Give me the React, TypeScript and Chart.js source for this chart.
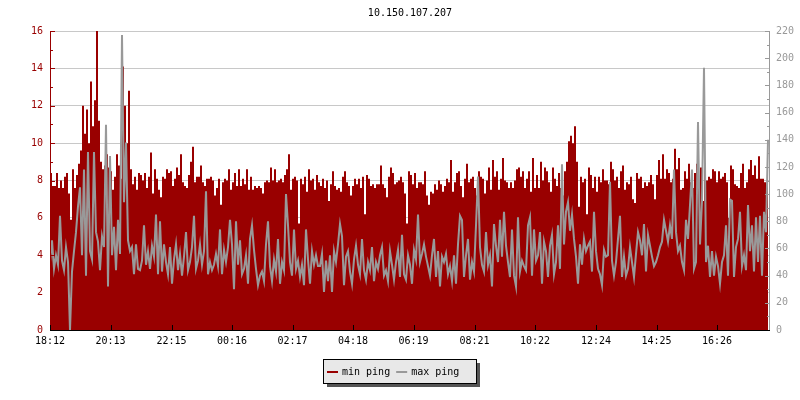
import React, { useEffect, useRef } from "react";
import { Chart, registerables } from "chart.js";

Chart.register(...registerables);

const TITLE = "10.150.107.207";
const SERIES_NAMES = ["min ping", "max ping"];
const STEP_MINUTES = 4;
const SPAN_MINUTES = 1440;
const TICK_MINUTES = [0, 121, 243, 364, 485, 606, 727, 849, 970, 1092, 1213, 1334];
const TICK_LABELS = ["18:12", "20:13", "22:15", "00:16", "02:17", "04:18", "06:19", "08:21", "10:22", "12:24", "14:25", "16:26"];

// min ping (ms, left axis), one value per 4 minutes
const MIN_PING = [
  8.4, 7.7, 7.7, 8.4, 7.6, 8.0, 7.6, 8.2, 8.4, 7.3, 5.9, 8.6, 7.6, 8.3, 8.9, 9.6, 12.0, 10.5, 11.8, 10.0,
  13.3, 10.9, 12.3, 16.0, 11.2, 9.0, 8.6, 8.8, 9.4, 8.7, 8.5, 7.5, 8.2, 9.4, 8.8, 8.1, 14.1, 12.0, 10.0, 12.8,
  8.6, 7.8, 8.2, 7.5, 8.4,
  8.3, 8.0, 8.4, 7.6, 8.2, 9.5, 7.3, 8.6, 8.1, 7.5, 7.1, 8.2, 8.1, 8.6, 8.4, 8.5, 7.7, 8.1, 8.7, 8.3,
  9.4, 7.9, 7.7, 7.6, 8.3, 9.0, 9.8, 7.9, 8.2, 8.2, 8.8, 7.9, 7.7, 8.1, 8.1, 8.2, 8.0, 7.2, 7.6, 8.1,
  6.7, 7.9, 8.1, 8.0, 8.6,
  7.5, 7.9, 8.4, 7.7, 8.6, 7.7, 8.1, 7.8, 8.6, 7.5, 8.2, 7.5, 7.7, 7.6, 7.7, 7.6, 7.3, 7.9, 8.0, 7.9,
  8.7, 8.0, 8.6, 7.9, 8.0, 8.1, 7.9, 8.3, 8.6, 9.4, 7.5, 8.1, 8.2, 8.0, 5.7, 8.1, 7.8, 8.2, 7.4, 8.6,
  8.0, 8.1, 7.5, 8.3, 7.9,
  7.7, 8.1, 7.6, 8.0, 6.9, 7.8, 8.5, 7.7, 7.5, 7.6, 7.4, 8.2, 8.5, 7.9, 7.7, 7.2, 7.7, 8.1, 7.8, 8.1,
  7.6, 8.2, 6.2, 8.3, 8.1, 7.7, 7.8, 7.6, 7.8, 7.8, 8.8, 7.8, 7.6, 7.1, 8.2, 8.7, 8.4, 7.8, 7.9, 8.0,
  8.2, 7.9, 7.3, 5.7, 8.5,
  8.3, 7.8, 8.4, 7.6, 7.9, 7.9, 7.8, 8.5, 7.2, 6.7, 7.4, 7.3, 7.8, 7.5, 8.0, 7.8, 7.4, 7.7, 8.1, 7.9,
  9.1, 7.4, 7.9, 8.4, 8.5, 7.7, 7.1, 8.1, 8.9, 7.9, 8.1, 8.2, 7.6, 7.2, 8.5, 8.2, 8.1, 7.3, 8.0, 8.7,
  7.5, 9.1, 8.2, 8.5, 7.5,
  8.1, 9.2, 8.0, 7.9, 7.6, 7.9, 7.6, 8.0, 8.6, 8.7, 8.2, 8.5, 7.6, 8.1, 8.5, 7.4, 9.2, 7.6, 8.3, 7.6,
  9.0, 8.0, 8.7, 8.5, 7.9, 7.4, 8.7, 8.1, 7.7, 8.4, 7.6, 7.2, 8.5, 9.0, 10.1, 10.4, 10.0, 10.9, 9.0, 6.6,
  8.2, 7.9, 8.1, 6.2, 8.7,
  8.3, 7.6, 8.2, 7.4, 8.2, 7.9, 8.6, 8.0, 8.0, 7.8, 9.0, 8.6, 8.0, 8.2, 7.6, 8.5, 8.8, 7.5, 7.9, 7.8,
  8.2, 7.0, 6.8, 8.4, 8.1, 8.2, 7.6, 7.9, 7.7, 7.9, 8.3, 7.8, 7.0, 8.3, 9.1, 8.1, 9.4, 8.1, 8.6, 8.4,
  7.9, 8.1, 9.7, 8.6, 9.2,
  7.5, 7.6, 8.5, 8.1, 8.9, 7.9, 7.6, 8.4, 8.9, 7.8, 8.7, 6.9, 8.9, 8.0, 8.2, 8.1, 8.6, 8.5, 7.9, 8.5,
  8.1, 8.2, 8.4, 7.9, 6.0, 8.8, 8.6, 7.8, 7.7, 7.6, 8.4, 8.9, 7.6, 7.9, 8.6, 9.1, 8.3, 8.8, 8.1, 9.3,
  8.1, 8.1, 7.9, 7.7, 8.0,
];

// max ping (ms, right axis), one value per 4 minutes
const MAX_PING = [
  50, 66, 45, 55, 48, 84, 51, 44, 61, 50, 0, 43, 58, 72, 91, 105, 55, 118, 40, 131,
  58, 52, 131, 72, 65, 44, 69, 61, 151, 32, 128, 55, 76, 44, 81, 56, 217, 94, 138, 66,
  58, 61, 41, 63, 45,
  44, 51, 77, 48, 58, 45, 62, 54, 85, 41, 80, 43, 63, 50, 41, 61, 34, 52, 63, 44,
  56, 40, 54, 72, 44, 50, 61, 84, 45, 51, 63, 48, 58, 102, 41, 50, 44, 48, 56, 47,
  74, 41, 59, 50, 61,
  81, 63, 30, 80, 48, 66, 41, 45, 55, 34, 67, 77, 59, 45, 33, 40, 43, 36, 63, 80,
  47, 36, 52, 43, 67, 34, 50, 44, 100, 77, 50, 40, 74, 45, 51, 39, 48, 33, 74, 52,
  34, 58, 48, 55, 47,
  47, 56, 28, 51, 36, 55, 28, 58, 50, 63, 78, 69, 33, 54, 58, 43, 34, 52, 62, 48,
  41, 67, 44, 37, 50, 44, 61, 36, 50, 45, 55, 61, 40, 44, 36, 58, 48, 37, 50, 59,
  39, 70, 41, 37, 55,
  48, 34, 59, 52, 85, 50, 56, 63, 54, 47, 40, 55, 67, 39, 58, 32, 54, 50, 56, 41,
  47, 36, 55, 34, 63, 84, 81, 39, 55, 67, 37, 50, 43, 77, 113, 61, 48, 43, 72, 48,
  55, 32, 78, 62, 50,
  81, 54, 87, 62, 50, 39, 74, 40, 32, 83, 43, 51, 47, 44, 77, 83, 40, 74, 51, 55,
  72, 34, 65, 58, 39, 62, 70, 41, 50, 77, 45, 122, 63, 87, 94, 73, 85, 67, 54, 34,
  63, 48, 67, 58, 62,
  65, 43, 87, 58, 45, 41, 33, 59, 54, 55, 109, 51, 40, 50, 67, 84, 39, 54, 40, 45,
  61, 50, 39, 56, 72, 66, 55, 78, 43, 70, 62, 54, 47, 50, 55, 61, 65, 81, 73, 65,
  77, 67, 118, 72, 58,
  62, 50, 44, 81, 67, 92, 118, 45, 50, 153, 63, 95, 193, 50, 62, 39, 58, 40, 54, 47,
  34, 50, 55, 77, 40, 96, 95, 39, 61, 67, 87, 47, 55, 44, 92, 58, 77, 43, 83, 50,
  84, 40, 87, 72, 140,
];

const RED = "#990000";
const GRAY = "#999999";
const FONT = '"DejaVu Sans Mono", monospace';

const overlayPlugin = {
  id: "overlay",
  afterDraw(chart: any) {
    const { ctx, chartArea } = chart;
    const { left, right, top, bottom } = chartArea;
    const x = chart.scales.x;
    const y = chart.scales.y;
    const y1 = chart.scales.y1;
    ctx.save();
    ctx.lineWidth = 1;

    // left axis
    ctx.strokeStyle = RED;
    ctx.beginPath();
    ctx.moveTo(left + 0.5, top);
    ctx.lineTo(left + 0.5, bottom);
    for (let v = 0; v <= 16; v++) {
      const py = Math.round(y.getPixelForValue(v)) + 0.5;
      const len = v % 2 === 0 ? 5 : 3;
      ctx.moveTo(left, py);
      ctx.lineTo(left + len, py);
    }
    ctx.stroke();

    // right axis
    ctx.strokeStyle = GRAY;
    ctx.beginPath();
    ctx.moveTo(right - 0.5, top);
    ctx.lineTo(right - 0.5, bottom);
    for (let v = 0; v <= 220; v += 10) {
      const py = Math.round(y1.getPixelForValue(v)) + 0.5;
      const len = v % 20 === 0 ? 5 : 3;
      ctx.moveTo(right - len, py);
      ctx.lineTo(right, py);
    }
    ctx.stroke();

    // bottom axis
    ctx.strokeStyle = "#000000";
    ctx.beginPath();
    ctx.moveTo(left, bottom + 0.5);
    ctx.lineTo(right, bottom + 0.5);
    TICK_MINUTES.forEach((t) => {
      const px = Math.round(x.getPixelForValue(t)) + 0.5;
      ctx.moveTo(px, bottom);
      ctx.lineTo(px, bottom - 5);
    });
    ctx.stroke();

    // title
    ctx.fillStyle = "#000000";
    ctx.font = "10px " + FONT;
    ctx.textAlign = "center";
    ctx.textBaseline = "middle";
    ctx.fillText(TITLE, (left + right) / 2, 13);

    // legend
    const bx = 323, by = 359, bw = 153, bh = 24;
    ctx.fillStyle = "#555555";
    ctx.fillRect(bx + 4, by + 4, bw, bh);
    ctx.fillStyle = "#e8e8e8";
    ctx.fillRect(bx, by, bw, bh);
    ctx.strokeStyle = "#000000";
    ctx.strokeRect(bx + 0.5, by + 0.5, bw, bh);
    const colors = [RED, GRAY];
    let cx = bx + 4;
    const cy = by + 13;
    ctx.textAlign = "left";
    SERIES_NAMES.forEach((name, i) => {
      ctx.fillStyle = colors[i];
      ctx.fillRect(cx, cy - 1, 11, 2);
      cx += 15;
      ctx.fillStyle = "#000000";
      ctx.fillText(name, cx, cy);
      cx += ctx.measureText(name).width + 6;
    });
    ctx.restore();
  },
};

export default function App() {
  const canvasRef = useRef<HTMLCanvasElement | null>(null);

  useEffect(() => {
    const canvas = canvasRef.current;
    if (!canvas) return;
    Chart.defaults.font.family = FONT;
    Chart.defaults.font.size = 10;

    const chart = new Chart(canvas, {
      type: "line",
      data: {
        datasets: [
          {
            label: SERIES_NAMES[0],
            data: MIN_PING.map((v, i) => ({ x: i * STEP_MINUTES, y: v })),
            yAxisID: "y",
            stepped: true,
            fill: "origin",
            backgroundColor: RED,
            borderColor: RED,
            borderWidth: 0,
            pointRadius: 0,
            order: 1,
          },
          {
            label: SERIES_NAMES[1],
            data: MAX_PING.map((v, i) => ({ x: i * STEP_MINUTES, y: v })),
            yAxisID: "y1",
            stepped: false,
            tension: 0,
            fill: false,
            borderColor: GRAY,
            borderWidth: 2,
            pointRadius: 0,
            order: 0,
          },
        ],
      },
      options: {
        animation: false,
        responsive: false,
        events: [],
        layout: { padding: { top: 31, left: 0, right: 0, bottom: 0 } },
        plugins: {
          legend: { display: false },
          title: { display: false },
          tooltip: { enabled: false },
        },
        scales: {
          x: {
            type: "linear",
            min: 0,
            max: SPAN_MINUTES,
            afterBuildTicks: (scale: any) => {
              scale.ticks = TICK_MINUTES.map((v) => ({ value: v }));
            },
            afterFit: (scale: any) => {
              scale.height = 70;
            },
            grid: { display: false, drawTicks: false },
            border: { display: false },
            ticks: {
              autoSkip: false,
              maxRotation: 0,
              padding: 5,
              color: "#000000",
              font: { family: FONT, size: 10 },
              callback: (_v: any, index: number) => TICK_LABELS[index],
            },
          },
          y: {
            position: "left",
            min: 0,
            max: 16,
            afterFit: (scale: any) => {
              scale.width = 50;
            },
            grid: { color: "#c8c8c8", drawTicks: false, lineWidth: 1 },
            border: { display: false },
            ticks: { stepSize: 2, padding: 7, color: RED, font: { family: FONT, size: 10 } },
          },
          y1: {
            position: "right",
            min: 0,
            max: 220,
            afterFit: (scale: any) => {
              scale.width = 30;
            },
            grid: { display: false, drawTicks: false },
            border: { display: false },
            ticks: { stepSize: 20, padding: 6, color: GRAY, font: { family: FONT, size: 10 } },
          },
        },
      },
      plugins: [overlayPlugin],
    });
    return () => chart.destroy();
  }, []);

  return (
    <div style={{ position: "fixed", left: 0, top: 0, width: 800, height: 400, background: "#ffffff" }}>
      <canvas ref={canvasRef} width={800} height={400} />
    </div>
  );
}
